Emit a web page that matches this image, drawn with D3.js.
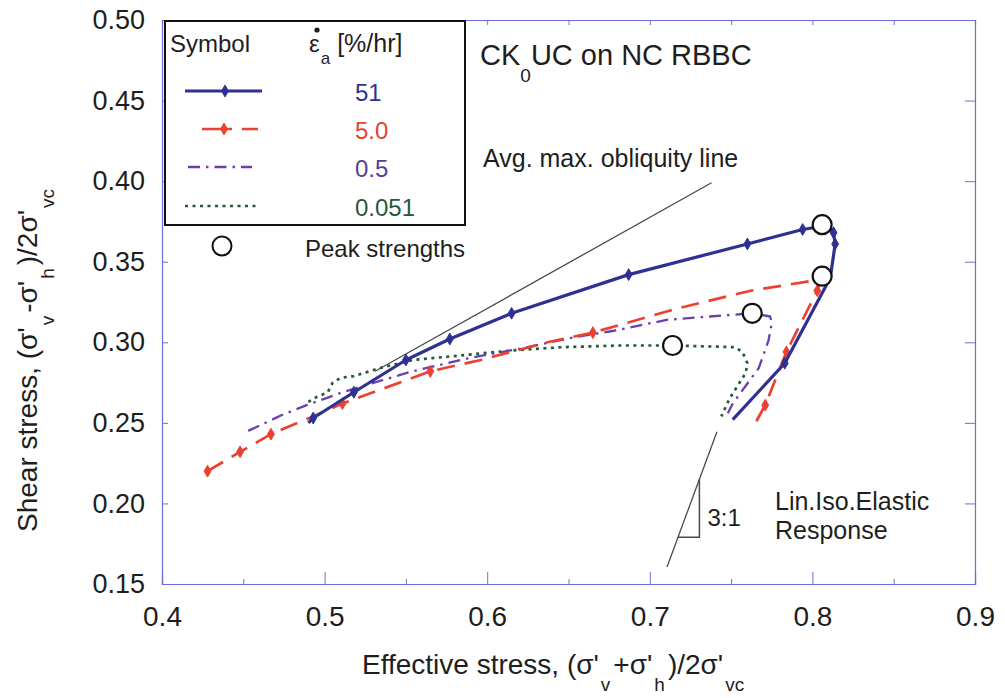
<!DOCTYPE html>
<html>
<head>
<meta charset="utf-8">
<script src="https://cdn.jsdelivr.net/npm/d3@7"></script>
<style>
  html, body { margin: 0; padding: 0; background: #fff; }
  svg { display: block; font-family: "Liberation Sans", Arial, Helvetica, sans-serif; }
</style>
</head>
<body>
<svg id="chart" width="1005" height="698"></svg>
<script>
// ---- Stress path data (normalised by sigma'_vc) ----
// 51 %/hr
const s51X = [0.490, 0.493, 0.518, 0.550, 0.577, 0.615, 0.687, 0.760, 0.794, 0.806, 0.811, 0.813, 0.814, 0.811, 0.783, 0.751];
const s51Y = [0.250, 0.253, 0.269, 0.289, 0.302, 0.318, 0.342, 0.361, 0.370, 0.372, 0.370, 0.368, 0.361, 0.340, 0.287, 0.252];
const s51MarkX = [0.493, 0.518, 0.550, 0.577, 0.615, 0.687, 0.760, 0.794, 0.813, 0.814, 0.783];
const s51MarkY = [0.253, 0.269, 0.289, 0.302, 0.318, 0.342, 0.361, 0.370, 0.368, 0.361, 0.287];

// 5.0 %/hr
const s5X = [0.428, 0.448, 0.467, 0.493, 0.511, 0.565, 0.596, 0.637, 0.665, 0.717, 0.762, 0.805, 0.803, 0.784, 0.771, 0.765];
const s5Y = [0.220, 0.232, 0.243, 0.254, 0.262, 0.282, 0.289, 0.300, 0.306, 0.321, 0.332, 0.339, 0.332, 0.294, 0.261, 0.250];
const s5MarkX = [0.428, 0.448, 0.467, 0.511, 0.565, 0.665, 0.803, 0.784, 0.771];
const s5MarkY = [0.220, 0.232, 0.243, 0.262, 0.282, 0.306, 0.332, 0.294, 0.261];

// 0.5 %/hr
const s05X = [0.453, 0.474, 0.489, 0.511, 0.534, 0.554, 0.588, 0.620, 0.653, 0.677, 0.711, 0.737, 0.763, 0.774, 0.775, 0.773, 0.767, 0.759, 0.751, 0.748];
const s05Y = [0.245, 0.255, 0.261, 0.269, 0.276, 0.282, 0.290, 0.296, 0.303, 0.307, 0.314, 0.316, 0.318, 0.316, 0.312, 0.301, 0.284, 0.273, 0.262, 0.256];

// 0.051 %/hr
const s0051X = [0.490, 0.495, 0.502, 0.505, 0.510, 0.518, 0.534, 0.554, 0.575, 0.616, 0.647, 0.682, 0.714, 0.752, 0.757, 0.760, 0.759, 0.754, 0.749, 0.744];
const s0051Y = [0.263, 0.266, 0.269, 0.275, 0.278, 0.279, 0.284, 0.289, 0.291, 0.295, 0.297, 0.298, 0.298, 0.297, 0.294, 0.287, 0.281, 0.273, 0.265, 0.254];

// Peak strengths (51, 5.0, 0.5, 0.051 %/hr)
const peakX = [0.806, 0.806, 0.763, 0.714];
const peakY = [0.373, 0.341, 0.318, 0.298];

// Reference lines
const oblX = [0.531, 0.738];
const oblY = [0.282, 0.399];
const elasX = [0.7106, 0.7413];
const elasY = [0.1606, 0.2445];

// Axis ticks
const xTickVals = [0.4, 0.45, 0.5, 0.55, 0.6, 0.65, 0.7, 0.75, 0.8, 0.85, 0.9];
const xLabelVals = [0.4, 0.5, 0.6, 0.7, 0.8, 0.9];
const yTickVals = [0.15, 0.2, 0.25, 0.3, 0.35, 0.4, 0.45, 0.5];

// Legend entries
const legendRates = ["51", "5.0", "0.5", "0.051"];

// ---- Styles ----
const FRAME = "#6e6ed8";
const TXT = "#1e1e1e";
const styles = [
  { color: "#2e3192", width: 3.2, dash: null,            label: "#2e3192" },
  { color: "#ec4030", width: 2.7, dash: "18,10",         label: "#e8402e" },
  { color: "#6a40b0", width: 2.3, dash: "12,6,2.5,6",    label: "#5a3c9c" },
  { color: "#1f5c34", width: 2.7, dash: "3,4.5",         label: "#245a3a" }
];

const svg = d3.select("#chart");
const x = d3.scaleLinear().domain([0.4, 0.9]).range([162, 975]);
const y = d3.scaleLinear().domain([0.15, 0.5]).range([584, 20]);

const zip = (xs, ys) => xs.map((v, i) => [v, ys[i]]);
const line = d3.line().x(d => x(d[0])).y(d => y(d[1]));

// ---- Frame and ticks ----
function styleAxis(g) {
  g.select(".domain").attr("stroke", FRAME).attr("stroke-width", 1.2);
  g.selectAll(".tick line").attr("stroke", FRAME).attr("stroke-width", 1);
}
const isLabelled = d => xLabelVals.some(v => Math.abs(v - d) < 1e-9);

// bottom: labelled ticks long, intermediate ticks short
svg.append("g").attr("transform", `translate(0,${y(0.15)})`)
  .call(d3.axisBottom(x).tickValues(xTickVals.filter(v => !isLabelled(v))).tickSize(-5).tickFormat(""))
  .call(styleAxis);
svg.append("g").attr("transform", `translate(0,${y(0.15)})`)
  .call(d3.axisBottom(x).tickValues(xLabelVals).tickSize(-12).tickPadding(22).tickFormat(d3.format(".1f")))
  .call(styleAxis)
  .call(g => g.selectAll("text").attr("font-size", 28).attr("fill", TXT)
    .attr("font-family", "'Liberation Sans', Arial, sans-serif"));

svg.append("g").attr("transform", `translate(0,${y(0.5)})`)
  .call(d3.axisTop(x).tickValues(xTickVals).tickSize(-5).tickFormat(""))
  .call(styleAxis);

svg.append("g").attr("transform", `translate(${x(0.4)},0)`)
  .call(d3.axisLeft(y).tickValues(yTickVals).tickSize(-6).tickPadding(17).tickFormat(d3.format(".2f")))
  .call(styleAxis)
  .call(g => g.selectAll("text").attr("font-size", 27).attr("fill", TXT)
    .attr("font-family", "'Liberation Sans', Arial, sans-serif"));

svg.append("g").attr("transform", `translate(${x(0.9)},0)`)
  .call(d3.axisRight(y).tickValues(yTickVals).tickSize(-10).tickFormat(""))
  .call(styleAxis);

// ---- Axis titles (text runs with lowered subscripts) ----
function subText(sel, parts, size, subSize, subDy) {
  let back = 0;
  parts.forEach(p => {
    if (typeof p === "string") {
      const t = sel.append("tspan").attr("font-size", size).text(p);
      if (back) { t.attr("dy", -back).attr("dx", 3); back = 0; }
    } else {
      sel.append("tspan").attr("font-size", subSize).attr("dy", subDy).attr("dx", 2).text(p.sub);
      back = subDy;
    }
  });
}
const xt = svg.append("text").attr("x", 362).attr("y", 674).attr("fill", TXT);
subText(xt, ["Effective stress, (\u03c3'", { sub: "v" }, "+\u03c3'", { sub: "h" }, ")/2\u03c3'", { sub: "vc" }], 28, 19, 17);

const yt = svg.append("text").attr("x", 0).attr("y", 0).attr("fill", TXT)
  .attr("transform", "translate(37,532) rotate(-90)");
subText(yt, ["Shear stress, (\u03c3'", { sub: "v" }, "-\u03c3'", { sub: "h" }, ")/2\u03c3'", { sub: "vc" }], 28, 19, 17);

// ---- Reference lines ----
svg.append("path").datum(zip(oblX, oblY)).attr("d", line)
  .attr("fill", "none").attr("stroke", "#4a4a4a").attr("stroke-width", 1.3);
svg.append("path").datum(zip(elasX, elasY)).attr("d", line)
  .attr("fill", "none").attr("stroke", "#4a4a4a").attr("stroke-width", 1.3);

// 3:1 slope triangle on the elastic line
const slope = (elasY[1] - elasY[0]) / (elasX[1] - elasX[0]);
const triTopY = 0.215, triBotY = 0.179;
const triTopX = elasX[0] + (triTopY - elasY[0]) / slope;
const triBotX = elasX[0] + (triBotY - elasY[0]) / slope;
svg.append("path")
  .attr("d", `M${x(triTopX)},${y(triTopY)} L${x(triTopX)},${y(triBotY)} L${x(triBotX)},${y(triBotY)}`)
  .attr("fill", "none").attr("stroke", "#4a4a4a").attr("stroke-width", 1.5);

svg.append("text").attr("x", x(triTopX) + 8).attr("y", y(triBotY) - 11)
  .attr("font-size", 24).attr("fill", TXT).text("3:1");
svg.append("text").attr("x", 775).attr("y", 510).attr("font-size", 25).attr("fill", TXT).text("Lin.Iso.Elastic");
svg.append("text").attr("x", 775).attr("y", 539).attr("font-size", 25).attr("fill", TXT).text("Response");
svg.append("text").attr("x", 483).attr("y", 167).attr("font-size", 25).attr("fill", TXT).text("Avg. max. obliquity line");

// ---- Stress paths ----
const series = [zip(s51X, s51Y), zip(s5X, s5Y), zip(s05X, s05Y), zip(s0051X, s0051Y)];
const markers = [zip(s51MarkX, s51MarkY), zip(s5MarkX, s5MarkY), [], []];
const diamond = d3.symbol().type(d3.symbolDiamond).size(40);

[3, 2, 1, 0].forEach(i => {
  const st = styles[i];
  svg.append("path").datum(series[i]).attr("d", line)
    .attr("fill", "none").attr("stroke", st.color).attr("stroke-width", st.width)
    .attr("stroke-linejoin", "round")
    .attr("stroke-dasharray", st.dash);
  svg.append("g").selectAll("path").data(markers[i]).join("path")
    .attr("d", diamond)
    .attr("transform", d => `translate(${x(d[0])},${y(d[1])})`)
    .attr("fill", st.color).attr("stroke", st.color).attr("stroke-width", 1);
});

// peak strength circles
svg.append("g").selectAll("circle").data(zip(peakX, peakY)).join("circle")
  .attr("cx", d => x(d[0])).attr("cy", d => y(d[1])).attr("r", 9.5)
  .attr("fill", "#fff").attr("stroke", "#111").attr("stroke-width", 2.2);

// ---- Title ----
const title = svg.append("text").attr("x", 480).attr("y", 65).attr("fill", TXT);
title.append("tspan").attr("font-size", 29).text("CK");
title.append("tspan").attr("font-size", 19).attr("dy", 17).text("0");
title.append("tspan").attr("font-size", 29).attr("dy", -17).text("UC on NC RBBC");

// ---- Legend ----
const lg = svg.append("g");
lg.append("rect").attr("x", 165).attr("y", 21).attr("width", 300).attr("height", 204)
  .attr("fill", "#fff").attr("stroke", "#111").attr("stroke-width", 2);
lg.append("text").attr("x", 170).attr("y", 52).attr("font-size", 24).attr("fill", TXT).text("Symbol");
const hdr = lg.append("text").attr("x", 309).attr("y", 52).attr("fill", TXT);
hdr.append("tspan").attr("font-size", 24).text("\u03b5");
hdr.append("tspan").attr("font-size", 17).attr("dy", 12).attr("dx", 1).text("a");
hdr.append("tspan").attr("font-size", 25).attr("dy", -12).attr("dx", 7).text("[%/hr]");
lg.append("circle").attr("cx", 317).attr("cy", 30).attr("r", 2.6).attr("fill", TXT);

const rowY = [91, 129, 167, 206];
const sampleX = [[185, 262], [202, 258], [188, 252], [185, 258]];
const sampleMark = [225, 224, null, null];
styles.forEach((st, i) => {
  lg.append("line").attr("x1", sampleX[i][0]).attr("x2", sampleX[i][1])
    .attr("y1", rowY[i]).attr("y2", rowY[i])
    .attr("stroke", st.color).attr("stroke-width", st.width)
    .attr("stroke-dasharray", i === 1 ? "30,10,18" : st.dash);
  if (sampleMark[i] !== null) {
    lg.append("path").attr("d", diamond)
      .attr("transform", `translate(${sampleMark[i]},${rowY[i]})`)
      .attr("fill", st.color).attr("stroke", st.color);
  }
  lg.append("text").attr("x", 355).attr("y", rowY[i] + 10)
    .attr("font-size", 24).attr("fill", st.label).text(legendRates[i]);
});

lg.append("circle").attr("cx", 222).attr("cy", 246).attr("r", 9.5)
  .attr("fill", "#fff").attr("stroke", "#111").attr("stroke-width", 2);
lg.append("text").attr("x", 305).attr("y", 257).attr("font-size", 24).attr("fill", TXT).text("Peak strengths");
</script>
</body>
</html>
